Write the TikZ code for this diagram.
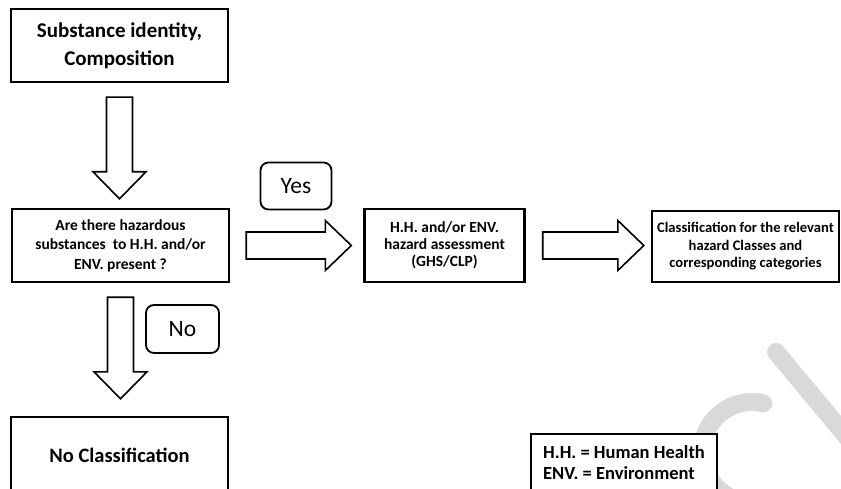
\documentclass[tikz,border=0pt]{standalone}
\usepackage{fontspec}
\setmainfont{Carlito}
\usetikzlibrary{calc}
\begin{document}
\begin{tikzpicture}[x=1pt,y=-1pt,
  box/.style={draw=black,fill=white,line width=2.4pt,inner sep=0pt,align=center},
  tag/.style={draw=black,fill=white,line width=1.8pt,rounded corners=8pt,inner sep=0pt},
  wmark/.style={draw=black!15,line width=18pt,line cap=round},
  downfat/.style={draw=black,fill=white,line width=1.6pt,line join=miter,
    to path={let \p1=(\tikztostart),\p2=(\tikztotarget) in
      (\x1-13pt,\y1) -- (\x1+13pt,\y1) -- (\x1+13pt,\y2+27pt) -- (\x1+26.5pt,\y2+27pt) -- (\x1,\y2)
      -- (\x1-26.5pt,\y2+27pt) -- (\x1-13pt,\y2+27pt) -- cycle}},
  rightfat/.style={draw=black,fill=white,line width=1.6pt,line join=miter,
    to path={let \p1=(\tikztostart),\p2=(\tikztotarget) in
      (\x1,\y1+13.5pt) -- (\x2-26pt,\y1+13.5pt) -- (\x2-26pt,\y1+25pt) -- (\x2,\y1)
      -- (\x2-26pt,\y1-25pt) -- (\x2-26pt,\y1-13.5pt) -- (\x1,\y1-13.5pt) -- cycle}}]
\clip (0,0) rectangle (841,489);
% watermark
\draw[wmark] (752,452) ++(-77:50) arc[start angle=-77,end angle=-240,radius=50];
\draw[wmark] (776,352) -- (866,460);
% boxes
\node[box,minimum width=217pt,minimum height=73pt,font=\bfseries\fontsize{21}{28}\selectfont] (ident) at (119.5,45.5) {Substance identity,\\Composition};
\node[box,minimum width=217pt,minimum height=73pt,font=\bfseries\fontsize{15.5}{19.5}\selectfont] (hazard) at (120.5,245.5) {Are there hazardous\\substances\ \ to H.H. and/or\\ENV. present ?};
\node[box,minimum width=160pt,minimum height=73pt,font=\bfseries\fontsize{15.5}{17}\selectfont] (assess) at (444.5,245.5) {H.H. and/or ENV.\\hazard assessment\\(GHS/CLP)};
\node[box,minimum width=187pt,minimum height=71pt,font=\bfseries\fontsize{14.6}{17.5}\selectfont] (classif) at (745.5,246.5) {Classification for the relevant\\hazard Classes and\\corresponding categories};
\node[box,minimum width=217pt,minimum height=76pt,font=\bfseries\fontsize{20.5}{24}\selectfont] (noclass) at (119.5,455) {No Classification};
\node[box,align=left,minimum width=186pt,minimum height=58pt,font=\bfseries\fontsize{18.5}{21}\selectfont] (legend) at (624,463) {H.H. = Human Health\\ENV. = Environment};
% labels
\node[tag,minimum width=71pt,minimum height=47pt,font=\fontsize{23.5}{27}\selectfont] (yes) at (296,186) {Yes};
\node[tag,minimum width=73pt,minimum height=48pt,font=\fontsize{23.5}{27}\selectfont] (no) at (182.5,329) {No};
% arrows
\draw[downfat] ([yshift=-14pt]ident.south) to ([yshift=9pt]hazard.north);
\draw[downfat] ([yshift=-14pt]hazard.south) to ([yshift=17pt]noclass.north);
\draw[rightfat] ([xshift=16pt]hazard.east) to ([xshift=-12pt]assess.west);
\draw[rightfat] ([xshift=17pt]assess.east) to ([xshift=-7pt]classif.west);
\end{tikzpicture}
\end{document}
